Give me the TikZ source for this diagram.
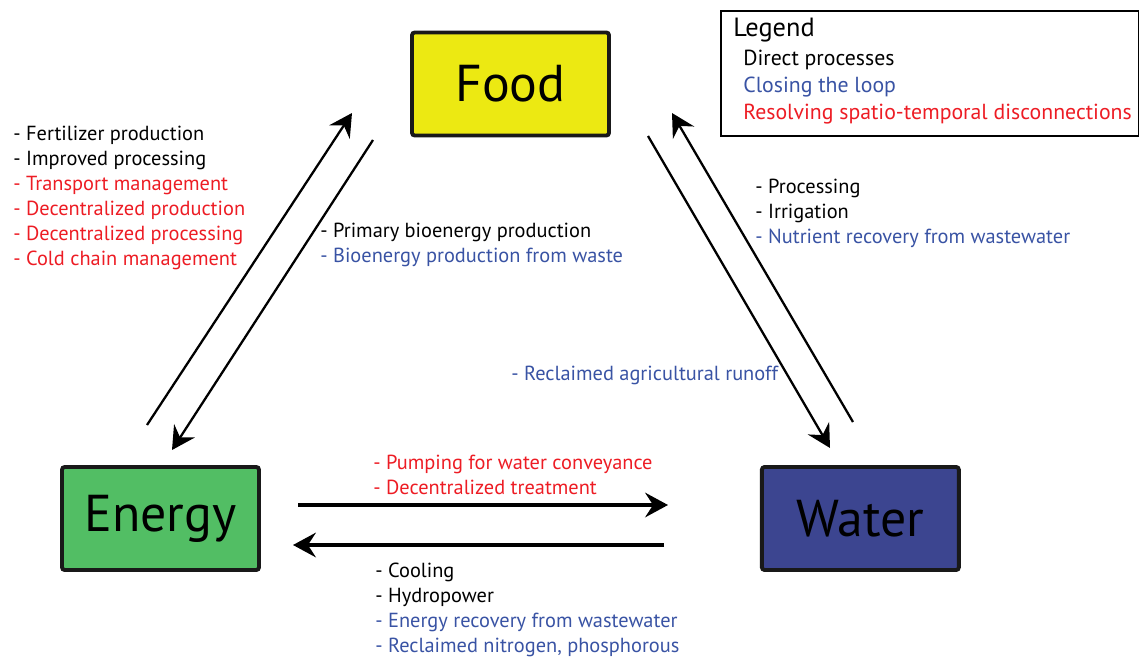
\documentclass[tikz,border=0pt]{standalone}
\usepackage{fontspec}
\setmainfont{PT Sans}
\usetikzlibrary{arrows.meta,positioning}
\definecolor{fred}{RGB}{237,28,36}
\definecolor{fblue}{RGB}{57,83,164}
\definecolor{foodyellow}{RGB}{236,233,18}
\definecolor{energygreen}{RGB}{82,190,100}
\definecolor{waterblue}{RGB}{60,69,144}
\newcommand{\redtx}[1]{\textcolor{fred}{#1}}
\newcommand{\bluetx}[1]{\textcolor{fblue}{#1}}
\begin{document}
\begin{tikzpicture}[x=0.02cm, y=-0.02cm, node distance={140mm},
  main/.style = {draw=black!90, line width=2.2pt, rounded corners=1.5pt, minimum width=3.94cm, minimum height=2.06cm, font=\fontsize{29.5}{34}\selectfont},
  txt/.style = {anchor=west, align=left, inner sep=0pt, font=\fontsize{11.6}{14.2}\selectfont},
  link/.style = {line width=1.3pt, -{Stealth[length=13pt, width=14pt, inset=4.5pt]}},
  flat/.style = {link, line width=1.8pt}]
\useasboundingbox (0,0) rectangle (1139,659);
\node[main, fill=energygreen] (energy) at (160.5,518.5) {Energy};
\node[main, fill=waterblue] (water) [right of=energy] {Water};
\node[main, fill=foodyellow] (food) at (510.5,84) {Food};
% legend
\node[draw, line width=1.2pt, anchor=north west, minimum width=8.36cm, minimum height=2.5cm] (legend) at (720,10) {};
\node[txt, font=\fontsize{15}{17}\selectfont] (legtitle) at (733,30) {Legend};
\node[txt, font=\fontsize{12.4}{15.2}\selectfont] (legitems) at (743,87) {Direct processes\\\bluetx{Closing the loop}\\\redtx{Resolving spatio-temporal disconnections}};
% arrow ends
\coordinate (ef1) at (147,425); \coordinate (ef2) at (352,113);
\coordinate (fe1) at (373,140); \coordinate (fe2) at (172,450);
\coordinate (fw1) at (648,136); \coordinate (fw2) at (830,448);
\coordinate (wf1) at (853,422); \coordinate (wf2) at (672,113);
\coordinate (ew1) at (298,505); \coordinate (ew2) at (668,505);
\coordinate (we1) at (664,545); \coordinate (we2) at (293,545);
\draw[link] (ef1) -- (ef2);
\draw[link] (fe1) -- (fe2);
\draw[link] (fw1) -- (fw2);
\draw[link] (wf1) -- (wf2);
\draw[flat] (ew1) -- (ew2);
\draw[flat] (we1) -- (we2);
% labels
\node[txt] (enfood) at (13,198) {- Fertilizer production\\- Improved processing\\\redtx{- Transport management}\\\redtx{- Decentralized production}\\\redtx{- Decentralized processing}\\\redtx{- Cold chain management}};
\node[txt] (foodenergy) at (320,244.5) {- Primary bioenergy production\\\bluetx{- Bioenergy production from waste}};
\node[txt] (watfood) at (755,213) {- Processing\\- Irrigation\\\bluetx{- Nutrient recovery from wastewater}};
\node[txt] (foodwat) at (511,375) {\bluetx{- Reclaimed agricultural runoff}};
\node[txt] (enwat) at (373,474.5) {\redtx{- Pumping for water conveyance}\\\redtx{- Decentralized treatment}};
\node[txt] (waten) at (375,609.5) {- Cooling\\- Hydropower\\\bluetx{- Energy recovery from wastewater}\\\bluetx{- Reclaimed nitrogen, phosphorous}};
%\draw[->] (water) -- (food);
\end{tikzpicture}
\end{document}
